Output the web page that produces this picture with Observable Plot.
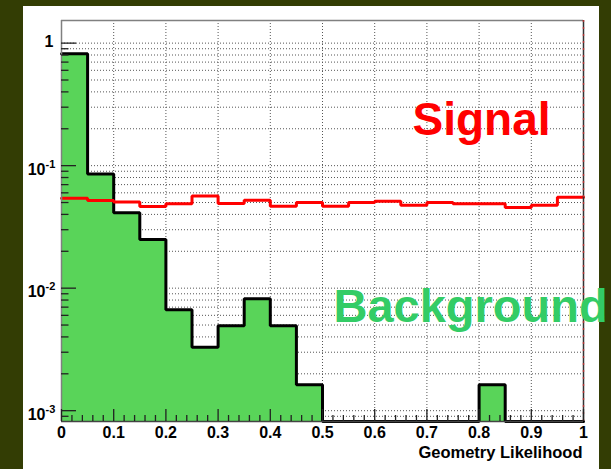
<!DOCTYPE html>
<html><head><meta charset="utf-8">
<script src="https://cdn.jsdelivr.net/npm/d3@7"></script>
<script src="https://cdn.jsdelivr.net/npm/@observablehq/plot@0.6"></script>
<style>
html,body{margin:0;padding:0;background:#333d04;width:611px;height:469px;overflow:hidden;}
#panel{position:absolute;left:23px;top:6px;width:576px;height:463px;background:#fff;}
#chart{position:absolute;left:0;top:0;}
</style></head><body><div id="panel"></div><div id="chart"></div>
<script>
// Bins (Geometry Likelihood)
const binStart = [0,0.05,0.1,0.15,0.2,0.25,0.3,0.35,0.4,0.45,0.5,0.55,0.6,0.65,0.7,0.75,0.8,0.85,0.9,0.95];
const binEnd   = [0.05,0.1,0.15,0.2,0.25,0.3,0.35,0.4,0.45,0.5,0.55,0.6,0.65,0.7,0.75,0.8,0.85,0.9,0.95,1];
// Background histogram (green)
const background = [0.82,0.0853,0.0412,0.0250,0.00666,0.00330,0.00493,0.00819,0.00493,0.00163,0,0,0,0,0,0,0.00163,0,0,0];
// Signal histogram (red)
const signal = [0.0543,0.0520,0.0505,0.0465,0.0489,0.0566,0.0491,0.0523,0.0467,0.0501,0.0467,0.0501,0.0513,0.0475,0.0501,0.0489,0.0489,0.0455,0.0475,0.0553];
// Ticks
const xTickValues = [0,0.1,0.2,0.3,0.4,0.5,0.6,0.7,0.8,0.9,1];
const xTickLabels = ["0","0.1","0.2","0.3","0.4","0.5","0.6","0.7","0.8","0.9","1"];
const xMinorTicks = [0.02,0.04,0.06,0.08,0.12,0.14,0.16,0.18,0.22,0.24,0.26,0.28,0.32,0.34,0.36,0.38,0.42,0.44,0.46,0.48,0.52,0.54,0.56,0.58,0.62,0.64,0.66,0.68,0.72,0.74,0.76,0.78,0.82,0.84,0.86,0.88,0.92,0.94,0.96,0.98];
const yDecades = [0.001,0.01,0.1];
const yDecadeExponents = ["-3","-2","-1"];
const yOne = [1];
const yMinorTicks = [0.0009,
  0.002,0.003,0.004,0.005,0.006,0.007,0.008,0.009,
  0.02,0.03,0.04,0.05,0.06,0.07,0.08,0.09,
  0.2,0.3,0.4,0.5,0.6,0.7,0.8,0.9];
const xTitle = "Geometry Likelihood";

const yMin = 0.000816, yMax = 1.53;
const W = 611, H = 469, mL = 61, mR = 28, mT = 20, mB = 48;
const plotW = W - mL - mR, plotH = H - mT - mB;
const font = "Liberation Sans, Arial, Helvetica, sans-serif";

function steps(vals){
  const pts = [];
  vals.forEach((v,i)=>{ const y = v > 0 ? v : yMin; pts.push({x: binStart[i], y}, {x: binEnd[i], y}); });
  return pts;
}
const grid = {stroke: "#555", strokeWidth: 1, strokeDasharray: "1,2"};

const chart = Plot.plot({
  width: W, height: H,
  marginLeft: mL, marginRight: mR, marginTop: mT, marginBottom: mB,
  style: {background: "transparent", fontFamily: font, overflow: "visible"},
  x: {domain: [0,1], axis: null},
  y: {type: "log", domain: [yMin, yMax], axis: null},
  marks: [
    Plot.ruleX([0.1,0.2,0.3,0.4,0.5,0.6,0.7,0.8,0.9], grid),
    Plot.ruleY(yMinorTicks.concat(yDecades, yOne), grid),
    Plot.areaY(steps(background), {x: "x", y1: yMin, y2: "y", fill: "#59d459"}),
    Plot.line(steps(background), {x: "x", y: "y", stroke: "black", strokeWidth: 3, strokeLinejoin: "miter"}),
    Plot.line(steps(signal), {x: "x", y: "y", stroke: "#ff0000", strokeWidth: 3, strokeLinejoin: "miter"}),
    // frame
    Plot.ruleX([0], {stroke: "#808080", strokeWidth: 1.5}),
    Plot.ruleY([yMax], {stroke: "#808080", strokeWidth: 1.5}),
    Plot.ruleX([1], {stroke: "#333", strokeWidth: 1.5}),
    Plot.ruleX([1], {stroke: "#e03030", strokeWidth: 1.5, strokeDasharray: "2,5", strokeOpacity: 0.7}),
    Plot.ruleY([yMin], {stroke: "#444", strokeWidth: 1.5}),
    // ticks
    Plot.tickY(yDecades.concat(yOne), {y: d=>d, insetRight: plotW - 15, stroke: "#222", strokeWidth: 1.3}),
    Plot.tickY(yMinorTicks, {y: d=>d, insetRight: plotW - 7.5, stroke: "#222", strokeWidth: 1.3}),
    Plot.tickX(xTickValues, {x: d=>d, insetTop: plotH - 12, stroke: "#222", strokeWidth: 1.3}),
    Plot.tickX(xMinorTicks, {x: d=>d, insetTop: plotH - 6, stroke: "#222", strokeWidth: 1.3}),
    // tick labels
    Plot.text(xTickValues, {x: d=>d, frameAnchor: "bottom", text: (d,i)=>xTickLabels[i], lineAnchor: "top", dy: 5, fontSize: 16, fontWeight: "bold", fill: "black"}),
    Plot.text(yOne, {y: d=>d, frameAnchor: "left", text: d=>String(d), textAnchor: "end", lineAnchor: "middle", dx: -8, dy: -1.5, fontSize: 16, fontWeight: "bold", fill: "black"}),
    Plot.text(yDecades, {y: d=>d, frameAnchor: "left", text: d=>"10", textAnchor: "end", lineAnchor: "middle", dx: -16, dy: 4, fontSize: 16, fontWeight: "bold", fill: "black"}),
    Plot.text(yDecades, {y: d=>d, frameAnchor: "left", text: (d,i)=>yDecadeExponents[i], textAnchor: "start", lineAnchor: "middle", dx: -16, dy: -1.5, fontSize: 11, fontWeight: "bold", fill: "black"}),
    // axis title
    Plot.text([xTitle], {frameAnchor: "bottom-right", text: d=>d, textAnchor: "end", lineAnchor: "top", dx: -1, dy: 24.5, fontSize: 16.5, fontWeight: "bold", fill: "black"}),
    // labels
    Plot.text(["Signal"], {frameAnchor: "top-right", text: d=>d, textAnchor: "end", lineAnchor: "top", dx: -33, dy: 82, fontSize: 46, fontWeight: "bold", fill: "#ff0000"}),
    Plot.text(["Background"], {frameAnchor: "top-left", text: d=>d, textAnchor: "start", lineAnchor: "top", dx: 272, dy: 268, fontSize: 47, fontWeight: "bold", fill: "#33cc66"})
  ]
});
document.getElementById("chart").appendChild(chart);
</script>
</body></html>
